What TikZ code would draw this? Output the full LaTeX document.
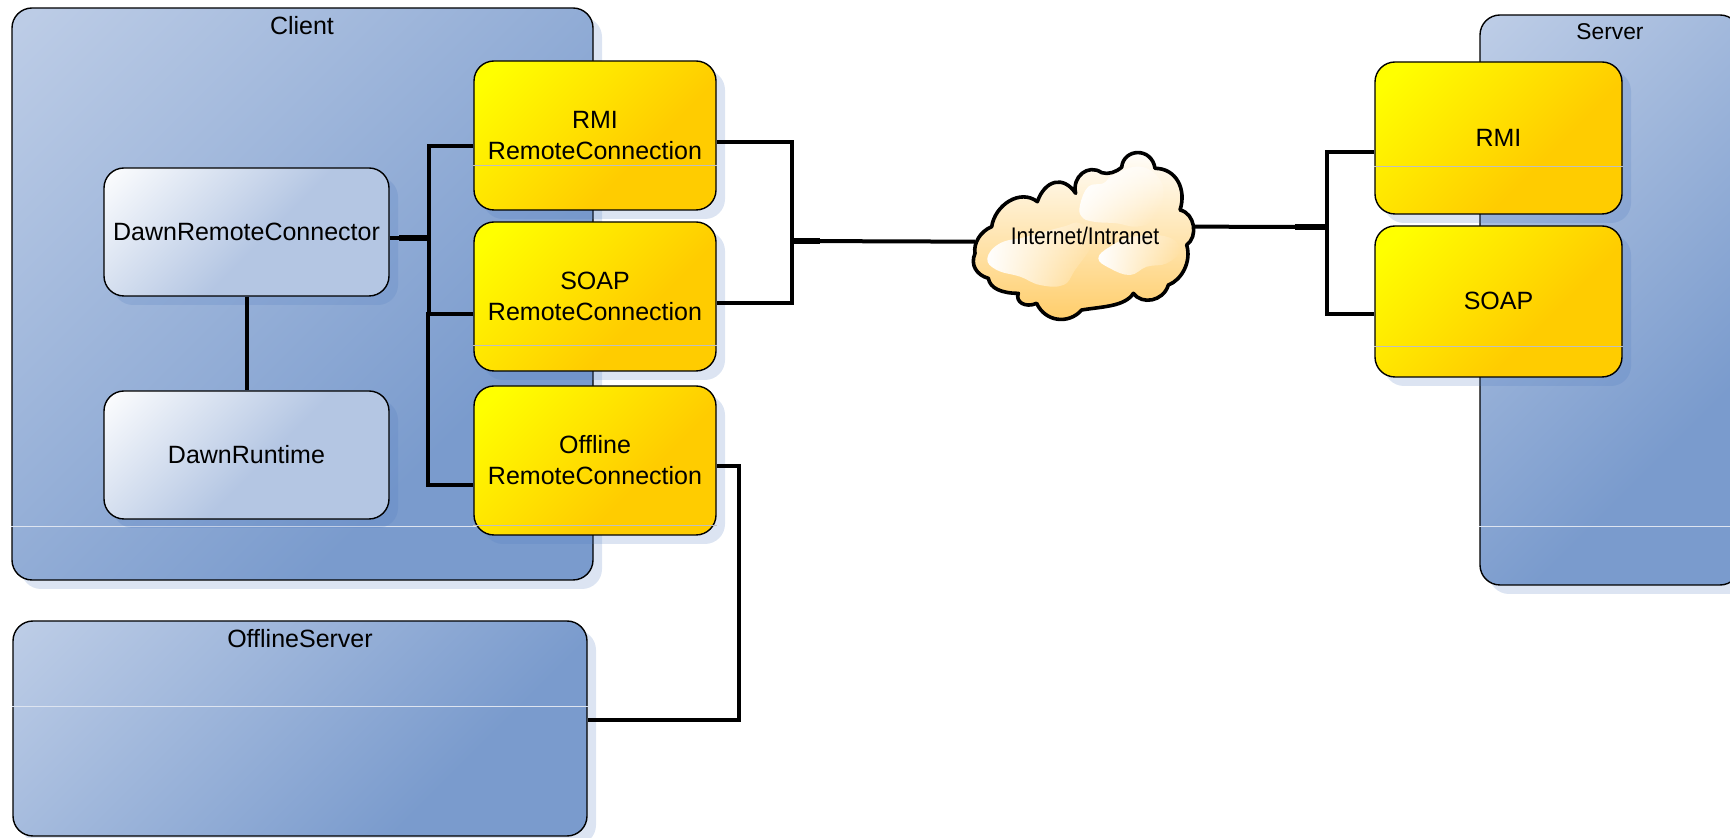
\documentclass[tikz,border=0pt]{standalone}
\usepackage{fontspec}
\setmainfont{Liberation Sans}
\usetikzlibrary{shadows,calc,fadings}
\definecolor{bluea}{HTML}{BCCCE6}
\definecolor{blueb}{HTML}{7A9BCD}
\definecolor{lighta}{HTML}{FFFFFF}
\definecolor{lightb}{HTML}{B4C6E3}
\definecolor{yela}{HTML}{FFFF00}
\definecolor{yelb}{HTML}{FFCC00}
\definecolor{shad}{HTML}{4F7ABF}
\definecolor{sepc}{HTML}{DDE4F0}
\definecolor{cloudb}{HTML}{FFCC66}
\pgfdeclareverticalshading{blueshade}{100bp}{color(0bp)=(blueb);color(32bp)=(blueb);color(84bp)=(bluea);color(100bp)=(bluea)}
\pgfdeclareverticalshading{lightshade}{100bp}{color(0bp)=(lightb);color(46bp)=(lightb);color(86bp)=(lighta);color(100bp)=(lighta)}
\pgfdeclareverticalshading{yelshade}{100bp}{color(0bp)=(yelb);color(38bp)=(yelb);color(80bp)=(yela);color(100bp)=(yela)}
\tikzfading[name=fadeoutright, left color=transparent!0, right color=transparent!100]
\tikzset{
  basebox/.style={draw=black,line width=.7pt,rounded corners=10pt,inner sep=0pt,align=center,
    drop shadow={shadow xshift=4.5pt,shadow yshift=-4.5pt,opacity=.2,fill=shad},
    font=\fontsize{12.5}{15.5}\selectfont},
  bluebox/.style={basebox,shading=blueshade,shading angle=45},
  lightbox/.style={basebox,shading=lightshade,shading angle=45,minimum width=142.5pt,minimum height=64pt},
  yelbox/.style={basebox,shading=yelshade,shading angle=45,minimum width=121pt,minimum height=74.5pt},
  titletext/.style={font=\fontsize{12.5}{15.5}\selectfont,inner sep=0pt},
  sepline/.style={draw=sepc,line width=.4pt},
  yelsep/.style={draw=lightgray,line width=.3pt},
  conn/.style={draw=black,line width=2pt,line join=miter},
  stub/.style={draw=black,line width=2.6pt},
  puff/.style={draw=none,fill=white,path fading=fadeoutright}
}
\begin{document}
\begin{tikzpicture}[x=.5pt,y=-.5pt]
\useasboundingbox (0,0) rectangle (1730,838);
\clip (0,0) rectangle (1730,838);
% containers
\node[bluebox,minimum width=290.5pt,minimum height=286pt] (client) at (302.5,294) {};
\node[bluebox,minimum width=287pt,minimum height=107.5pt] (offsrv) at (300,728.5) {};
\node[bluebox,minimum width=130pt,minimum height=285pt] (server) at (1610,300) {};
\node[titletext] (clientT) at (302,26) {Client};
\node[titletext] (offsrvT) at (300,639) {OfflineServer};
\node[titletext,font=\fontsize{11.4}{14}\selectfont] (serverT) at (1610,32) {Server};
\draw[sepline] (client.west |- 0,526) -- (client.east |- 0,526);
\draw[sepline] (offsrv.west |- 0,706) -- (offsrv.east |- 0,706);
\draw[sepline] (server.west |- 0,526) -- (server.east |- 0,526);
% inner boxes
\node[lightbox] (drc) at (246.5,232) {DawnRemoteConnector};
\node[lightbox] (drt) at (246.5,455) {DawnRuntime};
\node[yelbox] (rmirc) at (595,135.5) {RMI\\RemoteConnection};
\node[yelbox] (soaprc) at (595,296.5) {SOAP\\RemoteConnection};
\node[yelbox] (offrc) at (595,460.5) {Offline\\RemoteConnection};
\node[yelbox,minimum width=123.5pt,minimum height=76pt] (rmis) at (1498.5,138) {\raisebox{.5pt}{RMI}};
\node[yelbox,minimum width=123.5pt,minimum height=75.5pt] (soaps) at (1498.5,301.5) {\raisebox{1pt}{SOAP}};
\draw[yelsep] (rmirc.west |- 0,165) -- (rmirc.east |- 0,165);
\draw[yelsep] (soaprc.west |- 0,345) -- (soaprc.east |- 0,345);
\draw[yelsep] (offrc.west |- 0,525) -- (offrc.east |- 0,525);
\draw[yelsep] (rmis.west |- 0,166) -- (rmis.east |- 0,166);
\draw[yelsep] (soaps.west |- 0,346) -- (soaps.east |- 0,346);
% cloud
\begin{scope}[shift={(960,130)},x=.16667pt,y=-.16667pt]
\path[top color=white,bottom color=cloudb,line width=1.8pt,draw=black,line join=round]
 (45,370) .. controls (40,340) and (60,305) .. (95,290)
 .. controls (105,225) and (180,175) .. (232,215)
 .. controls (255,150) and (310,135) .. (347,190)
 .. controls (335,140) and (385,100) .. (425,128)
 .. controls (445,135) and (470,125) .. (485,112)
 .. controls (490,55) and (575,50) .. (585,115)
 .. controls (650,115) and (680,180) .. (660,240)
 .. controls (705,250) and (715,320) .. (680,345)
 .. controls (695,395) and (665,450) .. (625,465)
 .. controls (610,515) and (545,525) .. (520,490)
 .. controls (495,530) and (425,530) .. (365,540)
 .. controls (325,585) and (255,575) .. (230,520)
 .. controls (195,535) and (165,515) .. (175,490)
 .. controls (125,490) and (90,475) .. (85,445)
 .. controls (50,435) and (30,405) .. (45,370) -- cycle;
\path[puff,fading angle=-25]
 plot[smooth cycle,tension=.7] coordinates {(360,225)(385,170)(430,160)(460,135)(540,110)(600,150)(608,215)(580,270)(530,290)(470,280)(400,275)(365,260)};
\path[puff]
 plot[smooth cycle,tension=.7] coordinates {(82,385)(120,340)(200,320)(310,290)(360,280)(400,330)(345,420)(310,465)(240,465)(180,440)(110,420)};
\path[puff]
 plot[smooth cycle,tension=.7] coordinates {(415,385)(450,350)(520,320)(620,320)(660,360)(620,400)(560,410)(510,435)(450,415)};
\coordinate (cloudW) at (45,335);
\coordinate (cloudE) at (700,290);
\end{scope}
\node[inner sep=0pt,font=\fontsize{12}{14}\selectfont] (cloudT) at (1085,236) {\scalebox{.875}[1]{Internet/Intranet}};
% junctions
\coordinate (jl) at (429,238);
\coordinate (jr) at (792,241);
\coordinate (js) at (1327,227);
\coordinate (jo) at (739,466);
% connectors
\draw[conn] (drc.south) -- (drt.north);
\draw[conn] (drc.east |- jl) -- (jl);
\draw[stub] (jl) -- ++(-30,0);
\draw[conn] (rmirc.west |- 0,146) -- (jl |- 0,146) -- (jl) -- (jl |- 0,314) ;
\draw[conn] (soaprc.west |- 0,314) -- (428,314) -- (428,485) -- (offrc.west |- 0,485);
\draw[conn] (rmirc.east |- 0,142) -- (jr |- 0,142) -- (jr |- 0,303) -- (soaprc.east |- 0,303);
\draw[conn] (jr) -- (cloudW);
\draw[stub] (jr) -- ++(28,0);
\draw[conn] (cloudE) -- (js);
\draw[stub] (js) -- ++(-32,0);
\draw[conn] (rmis.west |- 0,152) -- (js |- 0,152) -- (js |- 0,314) -- (soaps.west |- 0,314);
\draw[conn] (offrc.east |- jo) -- (jo) -- (jo |- 0,720) -- (offsrv.east |- 0,720);
\end{tikzpicture}
\end{document}
